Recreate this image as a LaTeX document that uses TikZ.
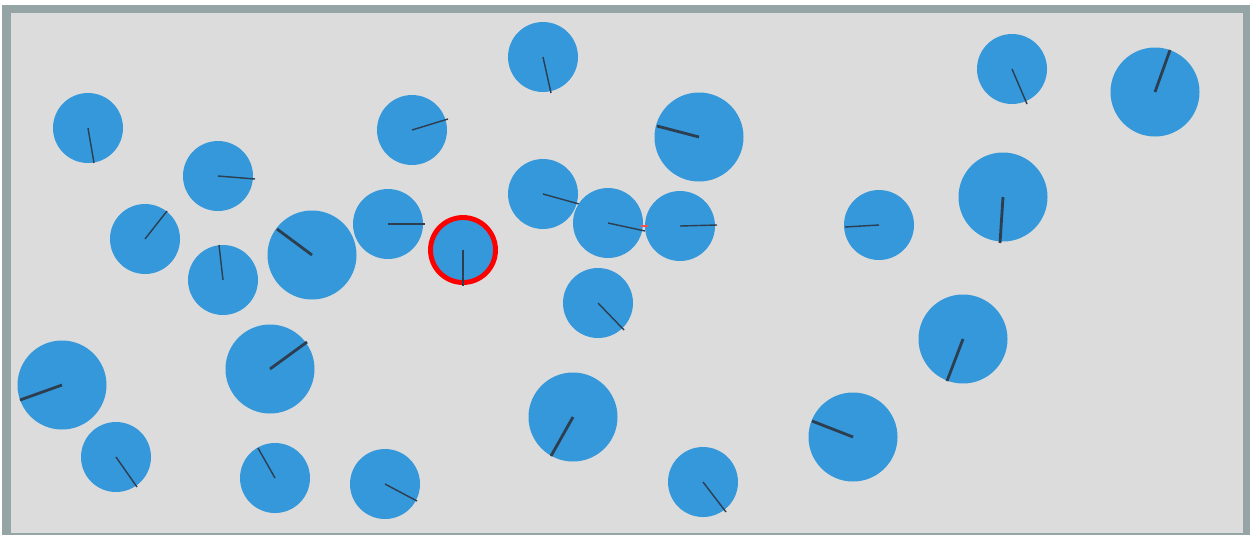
\documentclass[tikz,border=0pt]{standalone}
\usepackage{tikz}
\usetikzlibrary{calc}

\definecolor{frame}{HTML}{95A5A6}
\definecolor{field}{HTML}{DCDCDC}
\definecolor{puck}{HTML}{3498DB}
\definecolor{heading}{HTML}{2C3E50}

\begin{document}
\begin{tikzpicture}
\def\u{0.02cm}
\def\w{1250}
\def\h{535}

\useasboundingbox (0, 0) rectangle (\w*\u, -\h*\u);
\fill[white] (0, 0) rectangle (\w*\u, -\h*\u);
\fill[frame] (2*\u, -5*\u) rectangle (\w*\u, -\h*\u);
\fill[field] (11*\u, -13*\u) rectangle (1243*\u, -533*\u);

% small pucks: centre / end of heading line
\foreach \x/\y/\ex/\ey in {88/128/94/163, 218/176/255/179, 145/239/167/211, 223/280/219/245,
  388/224/425/224, 412/130/448/119, 543/57/551/93, 543/194/579/204, 608/223/645/231,
  680/226/717/225, 598/303/624/330, 703/482/726/512, 879/225/845/227, 1012/69/1027/104,
  116/457/137/487, 275/478/258/448, 385/484/417/501} {
  \fill[puck] (\x*\u, -\y*\u) circle [radius=35*\u];
  \draw[heading, line width=0.8pt] (\x*\u, -\y*\u) -- (\ex*\u, -\ey*\u);
}

% large pucks
\foreach \x/\y/\ex/\ey in {312/255/277/229, 699/137/657/126, 573/417/551/456, 853/437/812/421,
  1003/197/1000/243, 1155/92/1170/50, 963/339/947/381, 62/385/20/400, 270/369/307/342} {
  \fill[puck] (\x*\u, -\y*\u) circle [radius=44.5*\u];
  \draw[heading, line width=1.6pt] (\x*\u, -\y*\u) -- (\ex*\u, -\ey*\u);
}

% selected puck
\fill[puck] (463*\u, -250*\u) circle [radius=34*\u];
\draw[red, line width=2.8pt] (463*\u, -250*\u) circle [radius=32.5*\u];
\draw[heading, line width=0.8pt] (463*\u, -250*\u) -- (463*\u, -286*\u);
\draw[red!70, line width=0.6pt] (641*\u, -226*\u) -- (648*\u, -226*\u);
\end{tikzpicture}
\end{document}
